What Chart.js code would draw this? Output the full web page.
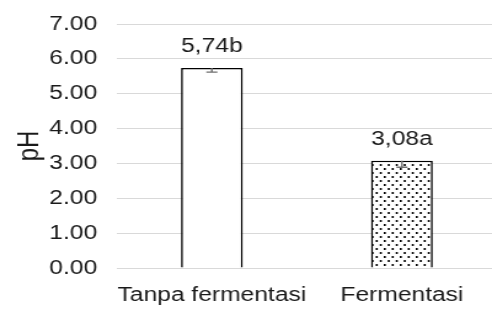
<!DOCTYPE html>
<html>
<head>
<meta charset="utf-8">
<script src="https://cdn.jsdelivr.net/npm/chart.js@4.4.0/dist/chart.umd.min.js"></script>
<style>
  html, body { margin: 0; padding: 0; background: #fff; overflow: hidden; }
  /* the reference is stretched sideways, so the chart is drawn narrower and widened */
  .wrap { width: 404px; height: 309px; transform: scaleX(1.23); transform-origin: 0 0; }
</style>
</head>
<body>
<div class="wrap"><canvas id="chart" width="404" height="309"></canvas></div>
<script>
const categories = ["Tanpa fermentasi", "Fermentasi"];
const phValues = [5.74, 3.08];
const phErrors = [0.12, 0.19];
const letters = ["b", "a"];
const yTicks = [0, 1, 2, 3, 4, 5, 6, 7];

const FONT = "'Liberation Sans', Arial, sans-serif";

// dotted fill for the second bar
function dotPattern() {
  var c = document.createElement("canvas");
  c.width = 13;
  c.height = 8;
  var g = c.getContext("2d");
  g.fillStyle = "#fff";
  g.fillRect(0, 0, 13, 8);
  g.fillStyle = "#000";
  g.fillRect(0, 0, 1.6, 2);
  g.fillRect(6.5, 0, 1.6, 2);
  g.fillRect(3.25, 4, 1.6, 2);
  g.fillRect(9.75, 4, 1.6, 2);
  return g.createPattern(c, "repeat");
}

// minus-only error bars and the value labels above the bars
const extras = {
  id: "extras",
  afterDatasetsDraw(chart) {
    var ctx = chart.ctx;
    var y = chart.scales.y;
    var meta = chart.getDatasetMeta(0);
    meta.data.forEach(function (bar, i) {
      var top = y.getPixelForValue(phValues[i]);
      var low = y.getPixelForValue(phValues[i] - phErrors[i]);
      ctx.save();
      ctx.strokeStyle = "#6f6f6f";
      ctx.lineWidth = 1.4;
      ctx.beginPath();
      ctx.moveTo(bar.x, top);
      ctx.lineTo(bar.x, low);
      ctx.moveTo(bar.x - 4.5, low);
      ctx.lineTo(bar.x + 4.5, low);
      ctx.stroke();

      ctx.fillStyle = "#1a1a1a";
      ctx.font = "20px " + FONT;
      ctx.textAlign = "center";
      ctx.textBaseline = "alphabetic";
      ctx.fillText(phValues[i].toFixed(2).replace(".", ",") + letters[i], bar.x, top - 16);
      ctx.restore();
    });
  }
};

var ctx = document.getElementById("chart").getContext("2d");
var myChart = new Chart(ctx, {
  type: "bar",
  data: {
    labels: categories,
    datasets: [
      {
        label: "pH",
        data: phValues,
        backgroundColor: ["#ffffff", dotPattern()],
        borderColor: "#000000",
        borderWidth: 1.6,
        categoryPercentage: 1,
        barPercentage: 0.325,
      },
    ],
  },
  options: {
    responsive: false,
    animation: false,
    layout: { padding: { top: 24, bottom: 0, left: 0, right: 0 } },
    plugins: {
      legend: { display: false },
      tooltip: { enabled: false },
    },
    scales: {
      x: {
        grid: { display: false, drawTicks: false },
        border: { display: true, color: "#d9d9d9", width: 1 },
        afterFit: function (axis) {
          axis.height = 41;
          axis.paddingLeft = 0;
          axis.paddingRight = 0;
        },
        ticks: {
          color: "#1a1a1a",
          padding: 15,
          maxRotation: 0,
          minRotation: 0,
          autoSkip: false,
          font: { family: FONT, size: 20 },
        },
      },
      y: {
        min: 0,
        max: 7,
        afterBuildTicks: function (axis) {
          axis.ticks = yTicks.map(function (v) { return { value: v }; });
        },
        afterFit: function (axis) {
          axis.width = 95;
          axis.paddingTop = 0;
          axis.paddingBottom = 0;
        },
        grid: { color: "#d9d9d9", lineWidth: 1, drawTicks: false },
        border: { display: false },
        ticks: {
          color: "#1a1a1a",
          padding: 16,
          font: { family: FONT, size: 20 },
          callback: function (v) { return Number(v).toFixed(2); },
        },
        title: {
          display: true,
          text: "pH",
          color: "#1a1a1a",
          font: { family: FONT, size: 24 },
          padding: { top: 10, bottom: 3 },
        },
      },
    },
  },
  plugins: [extras],
});
</script>
</body>
</html>
